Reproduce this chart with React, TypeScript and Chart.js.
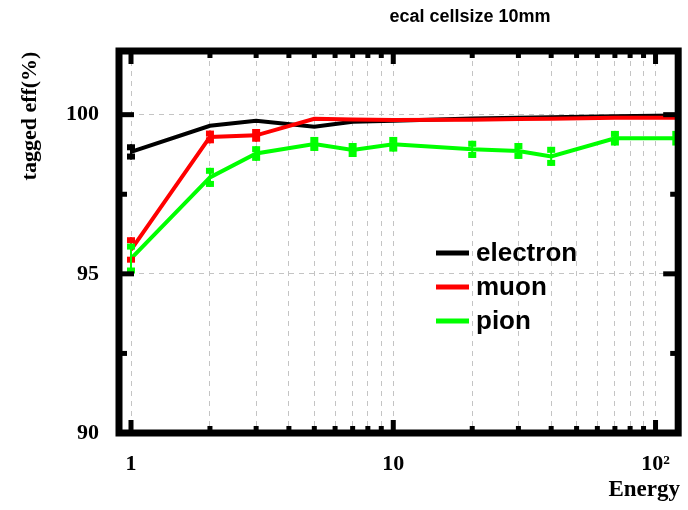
import React, { useEffect, useRef } from 'react';
import { Chart, registerables } from 'chart.js';

Chart.register(...registerables);

// ---- data ----
const energies = [1, 2, 3, 5, 7, 10, 20, 30, 40, 70, 120];
const electronEff = [98.83, 99.65, 99.81, 99.62, 99.78, 99.81, 99.88, 99.9, 99.92, 99.95, 99.97];
const electronErr = [0.24, 0, 0, 0, 0, 0, 0, 0, 0, 0, 0];
const muonEff = [95.75, 99.3, 99.35, 99.87, 99.85, 99.83, 99.84, 99.86, 99.87, 99.9, 99.9];
const muonErr = [0.4, 0.2, 0.2, 0, 0, 0, 0, 0, 0, 0, 0];
const pionEff = [95.48, 98.03, 98.78, 99.08, 98.89, 99.07, 98.91, 98.86, 98.69, 99.26, 99.26];
const pionErr = [0.47, 0.3, 0.23, 0.22, 0.22, 0.23, 0.27, 0.25, 0.3, 0.23, 0.23];

const seriesNames = ['electron', 'muon', 'pion'];
const seriesColors = ['#000000', '#ff0000', '#00ff00'];

const xTicks = [1, 2, 3, 4, 5, 6, 7, 8, 9, 10, 20, 30, 40, 50, 60, 70, 80, 90, 100];
const xTickLabels: Record<number, string> = { 1: '1', 10: '10', 100: '10²' };
const yTicks = [90, 92.5, 95, 97.5, 100];
const yLabeled = [90, 95, 100];

const titleText = 'ecal cellsize 10mm';
const yTitleText = 'tagged eff(%)';
const xTitleText = 'Energy';

const SERIF = "'Liberation Serif', 'DejaVu Serif', serif";
const SANS = "'Liberation Sans', Arial, sans-serif";

const toPoints = (ys: number[]) => energies.map((x, i) => ({ x, y: ys[i] }));

const decorPlugin = {
  id: 'decor',
  afterDatasetsDraw(chart: any) {
    const { ctx, scales } = chart;
    const x = scales.x, y = scales.y;
    ctx.save();
    chart.data.datasets.forEach((ds: any) => {
      const errs: number[] = ds.errors || [];
      ctx.fillStyle = ds.borderColor;
      ctx.strokeStyle = ds.borderColor;
      ds.data.forEach((p: any, i: number) => {
        const e = errs[i];
        if (!e) return;
        const px = x.getPixelForValue(p.x);
        const pt = y.getPixelForValue(p.y + e);
        const pb = y.getPixelForValue(p.y - e);
        ctx.lineWidth = 2;
        ctx.beginPath();
        ctx.moveTo(px, pt);
        ctx.lineTo(px, pb);
        ctx.stroke();
        ctx.fillRect(px - 4, pt, 8, 6);
        ctx.fillRect(px - 4, pb - 6, 8, 6);
      });
    });
    ctx.restore();
  },
  afterDraw(chart: any) {
    const { ctx, chartArea: a, scales } = chart;
    const x = scales.x, y = scales.y;
    ctx.save();
    // frame
    ctx.strokeStyle = '#000';
    ctx.lineWidth = 7;
    ctx.strokeRect(a.left, a.top, a.right - a.left, a.bottom - a.top);
    ctx.fillStyle = '#000';
    for (const v of xTicks) {
      const px = x.getPixelForValue(v);
      const lg = Math.log10(v);
      const major = Math.abs(lg - Math.round(lg)) < 1e-9;
      const len = major ? 13 : 7;
      ctx.fillRect(px - 2.5, a.bottom - len, 5, len);
      ctx.fillRect(px - 2.5, a.top, 5, len);
    }
    for (const v of yTicks) {
      const py = y.getPixelForValue(v);
      const major = v % 5 === 0;
      const len = major ? 15 : 8;
      ctx.fillRect(a.left, py - 2.5, len, 5);
      ctx.fillRect(a.right - len, py - 2.5, len, 5);
    }
    // legend
    const rows = [253, 287, 321];
    ctx.font = `bold 26px ${SANS}`;
    ctx.textAlign = 'left';
    ctx.textBaseline = 'middle';
    seriesNames.forEach((name, i) => {
      ctx.fillStyle = seriesColors[i];
      ctx.fillRect(436, rows[i] - 2.5, 33, 5);
      ctx.fillStyle = '#000';
      ctx.fillText(name, 476, rows[i] + 1);
    });
    // title
    ctx.font = `bold 18px ${SANS}`;
    ctx.textAlign = 'center';
    ctx.textBaseline = 'middle';
    ctx.fillText(titleText, 470, 17);
    // y title
    ctx.font = `bold 22px ${SERIF}`;
    ctx.save();
    ctx.translate(36, 116);
    ctx.rotate(-Math.PI / 2);
    ctx.textAlign = 'center';
    ctx.textBaseline = 'alphabetic';
    ctx.fillText(yTitleText, 0, 0);
    ctx.restore();
    // x title
    ctx.font = `bold 23px ${SERIF}`;
    ctx.textAlign = 'right';
    ctx.textBaseline = 'alphabetic';
    ctx.fillText(xTitleText, 680, 496);
    ctx.restore();
  },
};

export default function App() {
  const ref = useRef<HTMLCanvasElement>(null);
  useEffect(() => {
    const effs = [electronEff, muonEff, pionEff];
    const errs = [electronErr, muonErr, pionErr];
    const orders = [3, 2, 1];
    const chart = new Chart(ref.current as HTMLCanvasElement, {
      type: 'line',
      data: {
        datasets: seriesNames.map((name, i) => ({
          label: name,
          data: toPoints(effs[i]),
          errors: errs[i],
          borderColor: seriesColors[i],
          backgroundColor: seriesColors[i],
          borderWidth: 4,
          pointRadius: 0,
          tension: 0,
          order: orders[i],
        })) as any,
      },
      options: {
        animation: false,
        responsive: false,
        devicePixelRatio: 1,
        layout: { padding: { top: 51, right: 4, left: 0, bottom: 0 } },
        plugins: { legend: { display: false }, tooltip: { enabled: false }, title: { display: false } },
        scales: {
          x: {
            type: 'logarithmic',
            min: 0.9,
            max: 122,
            afterBuildTicks: (s: any) => {
              s.ticks = xTicks.map((v) => ({ value: v }));
            },
            afterFit: (s: any) => {
              s.height = 77;
            },
            ticks: {
              autoSkip: false,
              maxRotation: 0,
              padding: 18,
              color: '#000',
              font: { family: SERIF, size: 22, weight: 'bold' },
              callback: (v: any) => xTickLabels[Number(v)] ?? '',
            },
            grid: { color: '#c4c4c4', lineWidth: 1, drawTicks: false },
            border: { display: false, dash: [5, 5] },
          },
          y: {
            type: 'linear',
            min: 90,
            max: 102,
            afterBuildTicks: (s: any) => {
              s.ticks = yTicks.map((v) => ({ value: v }));
            },
            afterFit: (s: any) => {
              s.width = 119;
            },
            ticks: {
              padding: 20,
              color: '#000',
              font: { family: SERIF, size: 22, weight: 'bold' },
              callback: (v: any) => (yLabeled.includes(Number(v)) ? String(v) : ''),
            },
            grid: {
              color: (c: any) =>
                c.tick && (c.tick.value === 95 || c.tick.value === 100) ? '#c4c4c4' : 'rgba(0,0,0,0)',
              lineWidth: 1,
              drawTicks: false,
            },
            border: { display: false, dash: [5, 5] },
          },
        },
      } as any,
      plugins: [decorPlugin],
    });
    return () => chart.destroy();
  }, []);
  return (
    <div style={{ position: 'fixed', left: 0, top: 0, width: 688, height: 510, background: '#fff' }}>
      <canvas ref={ref} width={688} height={510} style={{ display: 'block' }} />
    </div>
  );
}
